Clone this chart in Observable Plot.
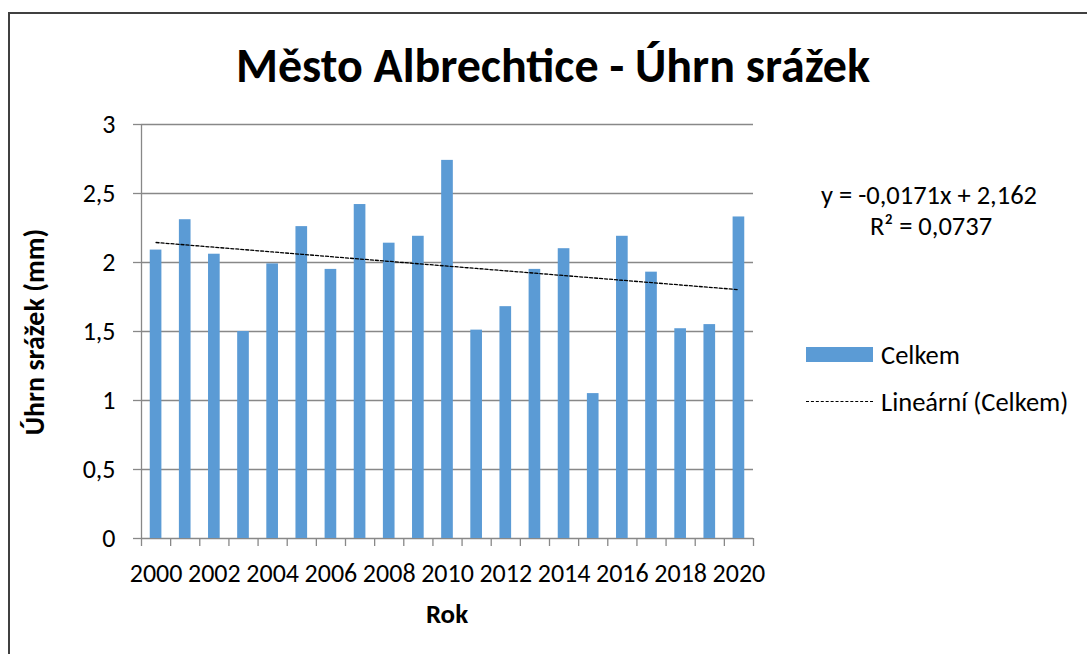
<!DOCTYPE html>
<html>
<head>
<meta charset="utf-8">
<script src="https://cdn.jsdelivr.net/npm/d3@7"></script>
<script src="https://cdn.jsdelivr.net/npm/@observablehq/plot@0.6"></script>
<style>
  html, body { margin: 0; padding: 0; background: #fff; overflow: hidden; }
  body { width: 1087px; height: 654px; position: relative; font-family: Calibri, Carlito, Lato, "Open Sans", sans-serif; color: #000; }
  #frame { position: absolute; left: 8px; top: 12px; width: 1200px; height: 800px; border: 2px solid #404040; box-sizing: border-box; }
  #chart { position: absolute; left: 0; top: 0; }
  .t { position: absolute; white-space: nowrap; transform: translate(-50%, -50%); line-height: 1; }
  #title { left: 553px; top: 66px; font-size: 48px; font-weight: 700; }
  #ylabel { left: 35px; top: 332px; font-size: 28px; font-weight: 700; transform: translate(-50%, -50%) rotate(-90deg); }
  #xlabel { left: 447px; top: 613px; font-size: 27px; font-weight: 700; }
  #eq1 { left: 929px; top: 195px; font-size: 26.5px; }
  #eq2 { left: 931px; top: 226px; font-size: 26.5px; }
  .legtext { position: absolute; font-size: 26.5px; line-height: 1; transform: translateY(-50%); white-space: nowrap; }
  #sw1 { position: absolute; left: 806px; top: 347px; width: 67px; height: 15px; background: #5B9BD5; }
  #sw2 { position: absolute; left: 806px; top: 401px; width: 67px; height: 0; border-top: 1.3px dashed #000; }
</style>
</head>
<body>
<div id="frame"></div>
<div id="chart"></div>
<div class="t" id="title">Město Albrechtice - Úhrn srážek</div>
<div class="t" id="ylabel">Úhrn srážek (mm)</div>
<div class="t" id="xlabel">Rok</div>
<div class="t" id="eq1">y = -0,0171x + 2,162</div>
<div class="t" id="eq2">R² = 0,0737</div>
<div id="sw1"></div>
<div class="legtext" style="left:881px; top:355px;">Celkem</div>
<div id="sw2"></div>
<div class="legtext" style="left:881px; top:402px;">Lineární (Celkem)</div>
<script>
// ---- data ----
const years = [2000, 2001, 2002, 2003, 2004, 2005, 2006, 2007, 2008, 2009, 2010,
               2011, 2012, 2013, 2014, 2015, 2016, 2017, 2018, 2019, 2020];
const celkem = [2.09, 2.31, 2.06, 1.50, 1.99, 2.26, 1.95, 2.42, 2.14, 2.19, 2.74,
                1.51, 1.68, 1.95, 2.10, 1.05, 2.19, 1.93, 1.52, 1.55, 2.33];
const trendSlope = -0.0171;
const trendIntercept = 2.162;
const yTicks = [0, 0.5, 1, 1.5, 2, 2.5, 3];
const yTickLabels = ["0", "0,5", "1", "1,5", "2", "2,5", "3"];
const xTickYears = [2000, 2002, 2004, 2006, 2008, 2010, 2012, 2014, 2016, 2018, 2020];

// ---- derived tables ----
const data = years.map((year, i) => ({year, value: celkem[i]}));
const trend = years.map((year, i) => ({year, value: trendIntercept + trendSlope * (i + 1)}));
const bandEdges = [years[0] - 0.5, ...years.map(y => y + 0.5)];
const half = 0.2;
const gridColor = "#888888";

const chart = Plot.plot({
  width: 1087,
  height: 654,
  marginLeft: 141,
  marginRight: 334,
  marginTop: 124,
  marginBottom: 116,
  style: {fontFamily: 'Calibri, Carlito, Lato, "Open Sans", sans-serif', fontSize: "26px", color: "#000", background: "transparent"},
  x: {type: "linear", domain: [bandEdges[0], bandEdges[bandEdges.length - 1]]},
  y: {domain: [0, 3]},
  marks: [
    Plot.gridY(yTicks, {stroke: gridColor, strokeOpacity: 1, strokeWidth: 1.3}),
    Plot.axisY(yTicks, {tickSize: 8, tickPadding: 18, stroke: gridColor, strokeWidth: 1.3,
      tickFormat: d => yTickLabels[yTicks.indexOf(d)], label: null, fontSize: 26}),
    Plot.axisX(bandEdges, {tickSize: 8, tickFormat: () => "", stroke: gridColor, strokeWidth: 1.3, label: null}),
    Plot.ruleX([bandEdges[0]], {stroke: gridColor, strokeWidth: 1.3}),
    Plot.rectY(data, {x1: d => d.year - half, x2: d => d.year + half, y: "value", fill: "#5B9BD5"}),
    Plot.lineY(trend, {x: "year", y: "value", stroke: "#000", strokeWidth: 1.3, strokeDasharray: "3,2"}),
    Plot.axisX(xTickYears, {tickSize: 0, tickPadding: 25, tickFormat: d => String(d), label: null, fontSize: 26})
  ]
});
document.getElementById("chart").appendChild(chart);
</script>
</body>
</html>
